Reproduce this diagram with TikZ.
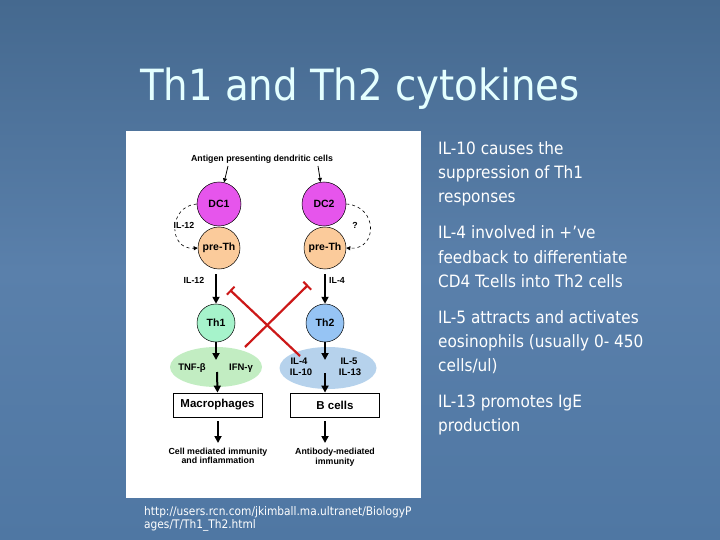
\documentclass[tikz,border=0pt]{standalone}
\usepackage{fontspec}
\setmainfont{Liberation Sans}
\newfontfamily\slidefont{DejaVu Sans Condensed}
\usetikzlibrary{arrows.meta,shapes.geometric}
\definecolor{bgtop}{HTML}{45698F}
\definecolor{bgmid}{HTML}{5A80AB}
\definecolor{bgbot}{HTML}{4F77A3}
\definecolor{titlec}{HTML}{E4FFFF}
\definecolor{dcmag}{HTML}{E655EC}
\definecolor{peach}{HTML}{FBCB9B}
\definecolor{mint}{HTML}{A6F3CB}
\definecolor{skyb}{HTML}{96C4F4}
\definecolor{gstip}{HTML}{C2EDC2}
\definecolor{bstip}{HTML}{B6D2EC}
\definecolor{inhib}{HTML}{CC1818}
\tikzset{
  cell/.style={circle, draw=black, line width=0.5pt, inner sep=0pt, font=\fontsize{10.5}{11}\selectfont\bfseries},
  lbl/.style={inner sep=0pt, font=\fontsize{8.8}{9.5}\selectfont\bfseries},
  cyl/.style={inner sep=0pt, font=\fontsize{9.5}{10}\selectfont\bfseries},
  boxl/.style={draw=black, line width=0.8pt, minimum width=89pt, minimum height=24pt, inner sep=0pt, font=\fontsize{11.5}{12}\selectfont\bfseries},
  cyto/.style={ellipse, inner sep=0pt},
  thin arr/.style={-{Triangle[width=4pt,length=4pt]}, line width=0.8pt},
  big arr/.style={-{Triangle[width=7pt,length=7pt]}, line width=2pt},
  inh/.style={-{Bar[width=11pt,line width=2pt]}, draw=inhib, line width=2.2pt},
  body/.style={anchor=base west, inner sep=0pt, text=white, font=\slidefont\fontsize{17}{20}\selectfont},
  url/.style={anchor=base west, inner sep=0pt, text=white, font=\slidefont\fontsize{11.8}{13}\selectfont}
}
\begin{document}
\begin{tikzpicture}[x=1pt,y=-1pt]
\useasboundingbox (0,0) rectangle (720,540);
\shade[top color=bgtop, bottom color=bgbot, middle color=bgmid] (0,0) rectangle (720,540);
% title
\node[text=titlec, anchor=base, inner sep=0pt, font=\slidefont\fontsize{43}{48}\selectfont] (title) at (360,101) {Th1 and Th2 cytokines};
% white panel
\fill[white] (126,131) rectangle (421,498);
% labels and cells
\node[lbl] (ag) at (262,159) {Antigen presenting dendritic cells};
\node[cell, fill=dcmag, minimum size=44pt] (dc1) at (219,204) {DC1};
\node[cell, fill=dcmag, minimum size=44pt] (dc2) at (324,204) {DC2};
\node[cell, fill=peach, minimum size=42pt] (pre1) at (219,248) {pre-Th};
\node[cell, fill=peach, minimum size=42pt] (pre2) at (325,248) {pre-Th};
\coordinate (ag1) at (228,166);
\coordinate (ag2) at (318,166);
\draw[thin arr] (ag1) -- (dc1);
\draw[thin arr] (ag2) -- (dc2);
\draw[thin arr, dashed, line width=0.6pt] (dc1.west) .. controls (168,206) and (168,250) .. (pre1.west);
\draw[thin arr, dashed, line width=0.6pt] (dc2.east) .. controls (378,206) and (378,250) .. (pre2.east);
\node[lbl, fill=white, inner sep=1pt] (il12a) at (184,225) {IL-12};
\node[lbl] (q) at (355,225) {?};
\node[lbl] (il12b) at (194,280) {IL-12};
\node[lbl] (il4a) at (337,280) {IL-4};
% Th cells
\node[cell, fill=mint, minimum size=38pt] (th1) at (216,323) {Th1};
\node[cell, fill=skyb, minimum size=38pt] (th2) at (325,323) {Th2};
\draw[big arr] (pre1.south) ++(-3,5) -- (th1.north);
\draw[big arr] (pre2.south) ++(0,5) -- (th2.north);
% cytokine clouds
\node[cyto, fill=gstip, minimum width=92pt, minimum height=40pt] (cyg) at (216,367) {};
\node[cyto, fill=bstip, minimum width=97pt, minimum height=42pt] (cyb) at (328,368) {};
\node[cyl] (tnf) at (192,368) {TNF-β};
\node[cyl] (ifn) at (241,368) {IFN-γ};
\node[cyl] (il4b) at (299,361) {IL-4};
\node[cyl] (il10) at (301,372) {IL-10};
\node[cyl] (il5) at (349,361) {IL-5};
\node[cyl] (il13) at (350,372) {IL-13};
\coordinate (g1) at (216,360);
\coordinate (b1) at (325,360);
\coordinate (g2) at (217,372);
\coordinate (b2) at (325,373);
\draw[big arr] (th1.south) -- (g1);
\draw[big arr] (th2.south) -- (b1);
% boxes
\node[boxl] (mac) at (217.5,405) {Macrophages};
\node[boxl] (bc) at (335,405) {B cells};
\draw[big arr] (g2) -- (mac.north);
\draw[big arr] (b2) -- (bc.north-|b2);
% inhibition
\coordinate (r1s) at (300,356);
\coordinate (r1e) at (230,290);
\coordinate (r2s) at (245,347);
\coordinate (r2e) at (308,285);
\draw[inh] (r1s) -- (r1e);
\draw[inh] (r2s) -- (r2e);
% outcomes
\coordinate (o1) at (218,443);
\coordinate (o2) at (325,443);
\draw[big arr] (mac.south-|o1) ++(0,4) -- (o1);
\draw[big arr] (bc.south-|o2) ++(0,4) -- (o2);
\node[lbl, align=center] (out1) at (218,456) {Cell mediated immunity\\and inflammation};
\node[lbl, align=center] (out2) at (335,457) {Antibody-mediated\\immunity};
% url
\node[url] (u1) at (144,515) {http://users.rcn.com/jkimball.ma.ultranet/BiologyP};
\node[url] (u2) at (144,528) {ages/T/Th1\_Th2.html};
% bullets text
\node[body] (p1a) at (438,155) {IL-10 causes the};
\node[body] (p1b) at (438,179) {suppression of Th1};
\node[body] (p1c) at (438,203) {responses};
\node[body] (p2a) at (438,239) {IL-4 involved in +’ve};
\node[body] (p2b) at (438,263) {feedback to differentiate};
\node[body] (p2c) at (438,287) {CD4 Tcells into Th2 cells};
\node[body] (p3a) at (438,323) {IL-5 attracts and activates};
\node[body] (p3b) at (438,347) {eosinophils (usually 0- 450};
\node[body] (p3c) at (438,371) {cells/ul)};
\node[body] (p4a) at (438,407) {IL-13 promotes IgE};
\node[body] (p4b) at (438,431) {production};
\end{tikzpicture}
\end{document}
